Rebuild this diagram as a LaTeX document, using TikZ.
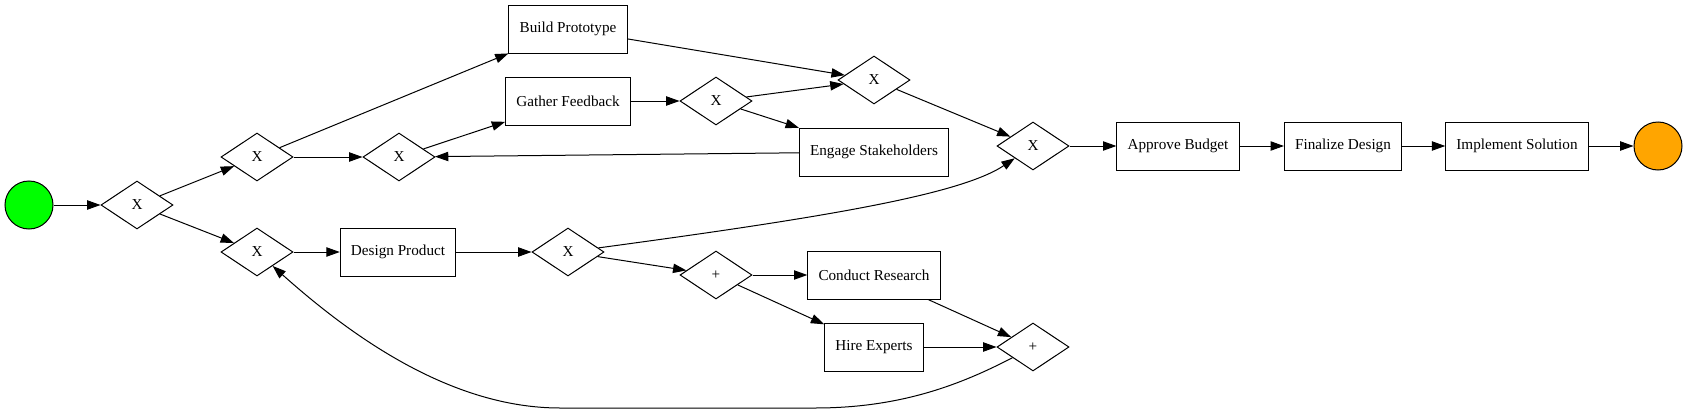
\documentclass[tikz,border=0pt]{standalone}
\usepackage{fontspec}
\setmainfont{Liberation Serif}
\usetikzlibrary{shapes.geometric}
\usetikzlibrary{arrows.meta}
\definecolor{startgreen}{RGB}{0,255,0}
\definecolor{endorange}{RGB}{255,165,0}

\begin{document}
\begin{tikzpicture}[x=0.75pt, y=-0.75pt, line width=0.75pt, >={Triangle[length=10pt, width=7pt]},
	task/.style={draw, rectangle, minimum height=36pt, inner xsep=8pt, font=\fontsize{11.4}{13}\selectfont},
	gate/.style={draw, diamond, minimum width=54pt, minimum height=36pt, inner sep=0pt, font=\fontsize{11.4}{13}\selectfont},
	event/.style={draw, circle, minimum size=36pt, inner sep=0pt}]
	% Fix the picture size (pixels of the reference)
	\useasboundingbox (0,0) rectangle (1688,414);
	
	% Start event and first split
	\node[event, fill=startgreen] (start) at (29,205) {};
	\node[gate] (xSplit) at (137,205) {X};
	\node[gate] (xTop) at (257,157) {X};
	\node[gate] (xBottom) at (257,252) {X};
	
	% Upper branch: prototype and feedback loop
	\node[gate] (xLoop) at (399,157) {X};
	\node[task] (build) at (568,29) {Build Prototype};
	\node[task] (gather) at (568,101) {Gather Feedback};
	\node[gate] (xFeedback) at (716,101) {X};
	\node[gate] (xProto) at (874,80) {X};
	\node[task] (engage) at (874,152) {Engage Stakeholders};
	
	% Lower branch: design, research and experts
	\node[task] (design) at (398,252) {Design Product};
	\node[gate] (xDesign) at (568,252) {X};
	\node[gate] (andSplit) at (716,275) {+};
	\node[task] (research) at (874,275) {Conduct Research};
	\node[task] (hire) at (874,347) {Hire Experts};
	\node[gate] (andJoin) at (1033,347) {+};
	
	% Merge and final tasks
	\node[gate] (xMerge) at (1033,146) {X};
	\node[task] (approve) at (1178,146) {Approve Budget};
	\node[task] (finalize) at (1343,146) {Finalize Design};
	\node[task] (implement) at (1517,146) {Implement Solution};
	\node[event, fill=endorange] (endEv) at (1658,146) {};
	
	% Flows of the upper branch
	\draw[->] (start) -- (xSplit);
	\draw[->] (xSplit) -- (xTop);
	\draw[->] (xSplit) -- (xBottom);
	\draw[->] (xTop) -- (build);
	\draw[->] (xTop) -- (xLoop);
	\draw[->] (xLoop) -- (gather);
	\draw[->] (gather) -- (xFeedback);
	\draw[->] (xFeedback) -- (xProto);
	\draw[->] (xFeedback) -- (engage);
	\draw[->] (build) -- (xProto);
	\draw[->] (engage) -- (xLoop);
	\draw[->] (xProto) -- (xMerge);
	
	% Flows of the lower branch
	\draw[->] (xBottom) -- (design);
	\draw[->] (design) -- (xDesign);
	\draw[->] (xDesign) .. controls (820,218) and (960,195) .. (xMerge);
	\draw[->] (xDesign) -- (andSplit);
	\draw[->] (andSplit) -- (research);
	\draw[->] (andSplit) -- (hire);
	\draw[->] (research) -- (andJoin);
	\draw[->] (hire) -- (andJoin);
	\draw[->] (andJoin) .. controls (960,385) and (900,408) .. (815,408) -- (560,408)
		.. controls (450,408) and (350,335) .. (xBottom);
	
	% Final chain
	\draw[->] (xMerge) -- (approve);
	\draw[->] (approve) -- (finalize);
	\draw[->] (finalize) -- (implement);
	\draw[->] (implement) -- (endEv);
\end{tikzpicture}
\end{document}
